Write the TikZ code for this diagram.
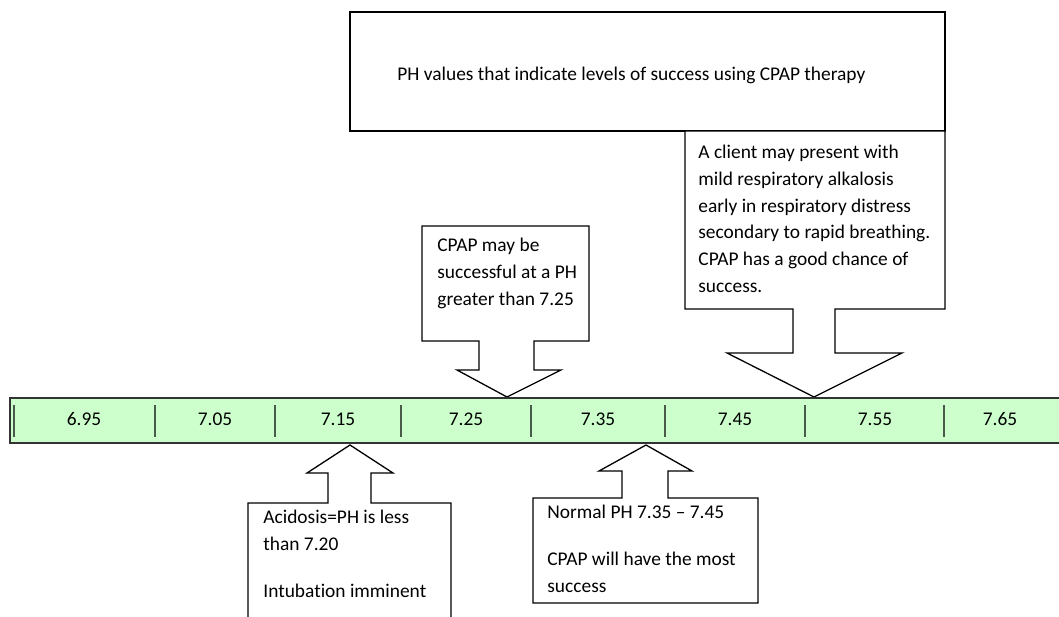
\documentclass[tikz,border=0pt]{standalone}
\usepackage{fontspec}
\setmainfont{Carlito}[Ligatures=NoCommon]
\definecolor{barGreen}{HTML}{CCFFCC}
\definecolor{tickGray}{HTML}{4A5A4A}

\begin{document}
\begin{tikzpicture}[line join=miter,x=0.5pt,y=-0.5pt,
	callout/.style={draw=black,line width=0.65pt,fill=white},
	txt/.style={anchor=north west,inner sep=0pt,align=left,font=\fontsize{9.7}{13.35}\selectfont},
	phlabel/.style={inner sep=0pt,font=\fontsize{9.7}{11}\selectfont},
	tickline/.style={draw=tickGray,line width=0.65pt}]
				\useasboundingbox (0,0) rectangle (1059,616);
				\clip (0,0) rectangle (1059,616);
				% title box
				\draw [callout] (350,12) rectangle (945,131);
				\node [txt,anchor=west] (title) at (397,75) {PH values that indicate levels of success using CPAP therapy};
				% callouts pointing down
				\draw [callout] (685,131) -- (945,131) -- (945,309) -- (835,309) -- (835,353) -- (902,353) -- (814,397) -- (727,353) -- (793,353) -- (793,309) -- (685,309) -- cycle;
				\node [txt] (client) at (698,145) {A client may present with\\ mild respiratory alkalosis\\ early in respiratory distress\\ secondary to rapid breathing.\\ CPAP has a good chance of\\ success.};
				\draw [callout] (422,226) -- (589,226) -- (589,341) -- (534,341) -- (534,370) -- (561,370) -- (507,397) -- (457,370) -- (479,370) -- (479,341) -- (422,341) -- cycle;
				\node [txt] (greater) at (437,238) {CPAP may be\\ successful at a PH\\ greater than 7.25};
				% callouts pointing up
				\draw [callout] (248,640) -- (248,503) -- (328,503) -- (328,473) -- (307,473) -- (350,445) -- (393,473) -- (371,473) -- (371,503) -- (451,503) -- (451,640);
				\node [txt] (acidosis) at (263,510) {Acidosis=PH is less\\ than 7.20\\[3.5mm] Intubation imminent};
				\draw [callout] (533,498) -- (622,498) -- (622,471) -- (599,471) -- (646,445) -- (692,471) -- (668,471) -- (668,498) -- (758,498) -- (758,603) -- (533,603) -- cycle;
				\node [txt] (normal) at (547,505) {Normal PH 7.35 -- 7.45\\[3.5mm] CPAP will have the most\\ success};
				% scale bar
				\draw [fill=barGreen,draw=black!80,line width=0.65pt] (10,398) rectangle (1070,443);
				\foreach \x in {14,155,275,401,531,665,805,944}
					\draw [tickline] (\x,405) -- (\x,437);
				\foreach \x/\v [count=\i] in {84/6.95,215/7.05,338/7.15,466/7.25,598/7.35,735/7.45,875/7.55,1000/7.65}
					\node [phlabel] (ph\i) at (\x,419) {\v};
			\end{tikzpicture}
\end{document}
